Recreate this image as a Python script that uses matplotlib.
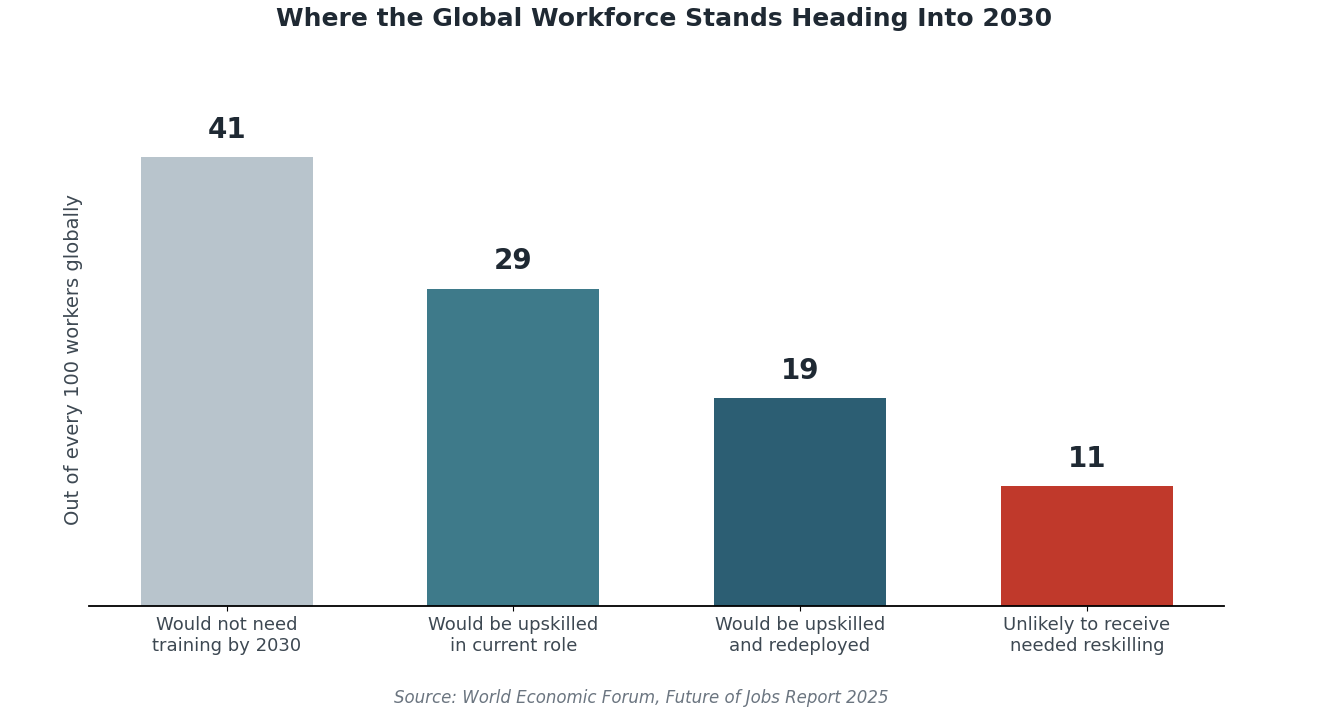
#!/usr/bin/env python3

import matplotlib
matplotlib.use("Agg")
import matplotlib.pyplot as plt

categories = ["Would not need\ntraining by 2030", "Would be upskilled\nin current role",
              "Would be upskilled\nand redeployed", "Unlikely to receive\nneeded reskilling"]
values = [41, 29, 19, 11]
colors = ["#b8c4cc", "#3e7a8a", "#2c5e73", "#c0392b"]


def main():
    fig = plt.figure(figsize=(13.28, 7.26), dpi=100)
    ax = fig.add_axes([0.067, 0.165, 0.855, 0.679])
    x = range(len(values))
    bars = ax.bar(x, values, width=0.6, color=colors)
    for b, v in zip(bars, values):
        ax.text(b.get_x() + b.get_width() / 2, v + 1.2, str(v), ha="center", va="bottom",
                fontsize=20, fontweight="bold", color="#1f2933")
    ax.set_xlim(-0.48, 3.48)
    ax.set_ylim(0, 45)
    ax.set_xticks(list(x))
    ax.set_xticklabels(categories, fontsize=13, color="#3d4852")
    ax.set_yticks([])
    ax.set_ylabel("Out of every 100 workers globally", fontsize=14, color="#3d4852")
    for s in ["top", "right", "left"]:
        ax.spines[s].set_visible(False)
    ax.spines["bottom"].set_linewidth(1.3)
    fig.suptitle("Where the Global Workforce Stands Heading Into 2030", y=0.99,
                 fontsize=18, fontweight="bold", color="#1f2933")
    fig.text(0.483, 0.032, "Source: World Economic Forum, Future of Jobs Report 2025",
             ha="center", fontsize=12, style="italic", color="#6b7580")
    fig.savefig("out.png", dpi=100)


if __name__ == "__main__":
    main()
